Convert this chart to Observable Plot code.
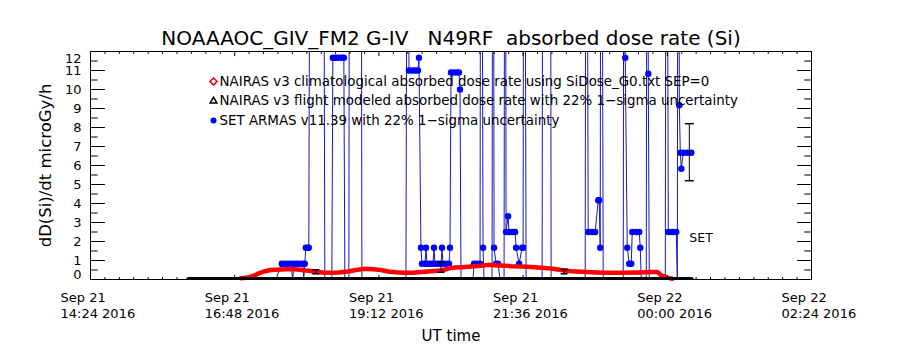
<!DOCTYPE html>
<html><head><meta charset="utf-8">
<script src="https://cdn.jsdelivr.net/npm/d3@7"></script>
<script src="https://cdn.jsdelivr.net/npm/@observablehq/plot@0.6"></script>
<style>body{margin:0;background:#fff} svg{display:block}</style>
</head><body><div id="chart"></div>
<script>
// ---- text ----
const titleText = "NOAAAOC_GIV_FM2 G-IV\u00a0\u00a0\u00a0N49RF\u00a0\u00a0absorbed dose rate (Si)";
const yLabelText = "dD(Si)/dt microGy/h";
const xLabelText = "UT time";
const legendLabels = [
  "NAIRAS v3 climatological absorbed dose rate using SiDose_G0.txt SEP=0",
  "NAIRAS v3 flight modeled absorbed dose rate with 22% 1\u2212sigma uncertainty",
  "SET ARMAS v11.39 with 22% 1\u2212sigma uncertainty"
];
const setLabel = "SET";

// ---- axes ----
const xTickClock = ["14:24", "16:48", "19:12", "21:36", "00:00", "02:24"];
const xTickDay = ["Sep 21", "Sep 21", "Sep 21", "Sep 21", "Sep 22", "Sep 22"];
const xTickYear = ["14:24 2016", "16:48 2016", "19:12 2016", "21:36 2016", "00:00 2016", "02:24 2016"];
const yTickValues = [0, 1, 2, 3, 4, 5, 6, 7, 8, 9, 10, 11, 12];

// ---- SET ARMAS (blue) ----
const setTimes = ["16:02","17:29","17:35","17:38","17:41","17:44","17:46","17:47","17:50","17:53","17:56","17:57","17:58","17:59","18:01","18:02","18:04","18:16","18:18","18:25","18:26","18:29","18:32","18:35","18:37","18:38","18:42","18:43","18:54","18:55","19:39","19:41","19:42","19:45","19:48","19:51","19:52","19:54","19:55","19:58","19:59","20:00","20:03","20:06","20:07","20:08","20:11","20:14","20:15","20:16","20:19","20:22","20:23","20:24","20:27","20:30","20:32","20:33","20:34","20:46","20:47","20:50","20:53","20:54","20:56","20:57","21:05","21:06","21:07","21:09","21:11","21:13","21:17","21:18","21:19","21:21","21:22","21:25","21:28","21:29","21:32","21:35","21:36","21:37","21:39","21:55","21:56","22:03","22:04","22:38","22:39","22:41","22:45","22:48","22:51","22:52","22:53","22:54","22:56","23:16","23:17","23:18","23:20","23:22","23:24","23:25","23:29","23:32","23:33","23:34","23:39","23:40","23:41","23:42","23:58","23:59","00:01","00:05","00:09","00:10","00:11","00:12","00:13","00:14","00:16","00:20","00:24"];
const setValues = [0,0,0.83,0.83,0.83,0.83,0,0.83,0.83,0.83,0.83,0,0.83,1.67,1.67,1.67,40,40,0,0,11.67,11.67,11.67,11.67,11.67,0,0,40,40,0,0,40,11.0,11.0,11.0,11.0,11.67,1.67,0.83,0.83,1.67,0.83,0.83,0.83,1.67,0.83,0.83,0.83,1.67,0.83,0.83,0.83,1.67,10.9,10.9,10.9,10.9,10.0,0,0,0.83,0.83,0.83,40,1.67,0,0,40,1.67,0.83,0.83,0,0,40,2.5,3.33,2.5,2.5,2.5,1.67,0.83,1.67,1.67,40,0,0,40,40,0,0,40,2.5,2.5,2.5,4.17,4.17,1.67,40,0,0,40,11.67,1.67,0.83,0.83,2.5,2.5,2.5,1.67,0,0,40,10.83,0,0,40,2.5,2.5,2.5,0,40,9.17,6.67,5.83,6.67,6.67,6.67];
const setErrTime = ["00:22"];
const setErrLow = [5.2];
const setErrHigh = [8.2];
const setLabelTime = ["00:22"];
const setLabelValue = [2.2];

// ---- NAIRAS climatological (red) ----
const clmTimes = ["16:54","17:01","17:07","17:12","17:17","17:24","17:34","17:44","17:51","17:59","18:07","18:16","18:24","18:32","18:41","18:49","18:57","19:06","19:14","19:21","19:29","19:37","19:46","19:54","20:04","20:14","20:24","20:34","20:44","20:54","21:01","21:11","21:19","21:24","21:34","21:44","21:54","22:04","22:14","22:24","22:34","22:44","22:57","23:14","23:31","23:44","23:50","23:54","00:00","00:05"];
const clmValues = [0.07,0.1,0.2,0.32,0.42,0.5,0.53,0.55,0.53,0.47,0.42,0.37,0.35,0.37,0.42,0.5,0.56,0.54,0.5,0.42,0.38,0.35,0.36,0.4,0.43,0.47,0.62,0.65,0.68,0.72,0.77,0.74,0.72,0.7,0.68,0.66,0.62,0.58,0.5,0.44,0.41,0.38,0.35,0.35,0.37,0.4,0.4,0.22,0.1,0.04];

// ---- NAIRAS flight modeled (black) ----
const fltTimes = ["16:02","18:00","20:00","22:00","00:24"];
const fltValues = [0, 0, 0, 0, 0];
const fltErrTimes = ["18:09", "20:14", "22:17"];
const fltErrLow = [0.3, 0.38, 0.3];
const fltErrHigh = [0.51, 0.91, 0.53];

// ---- helpers ----
const toDate = hm => {
  const [h, m] = hm.split(":").map(Number);
  return new Date(Date.UTC(2016, 8, h >= 14 ? 21 : 22, h, m));
};
const W = 900, H = 350, ML = 90, MR = 89, MT = 51, MB = 71;
const FW = W - ML - MR, FH = H - MT - MB;
const xStart = toDate("14:24"), xEnd = toDate("02:24");
const Y0 = 0, Y1 = 12;
const msPerPx = (+xEnd - +xStart) / FW;
const unitPerPx = (Y1 - Y0) / FH;
const addPx = (d, px) => new Date(+d + px * msPerPx);

const setData = setTimes.map((t, i) => ({t: toDate(t), v: setValues[i]}));
const clmData = clmTimes.map((t, i) => ({t: toDate(t), v: clmValues[i]}));
const fltData = fltTimes.map((t, i) => ({t: toDate(t), v: fltValues[i]}));
const fltErr = fltErrTimes.map((t, i) => ({t: toDate(t), lo: fltErrLow[i], hi: fltErrHigh[i]}));
const setErr = setErrTime.map((t, i) => ({t: toDate(t), lo: setErrLow[i], hi: setErrHigh[i]}));
const xLabels = xTickClock.map((c, i) => ({t: i === 5 ? xEnd : toDate(c), day: xTickDay[i], yr: xTickYear[i]}));
// tick positions: every 14.4 min, every 10th one is major
const xTickPos = d3.range(0, 51).map(k => ({t: new Date(+xStart + k * 14.4 * 60000), major: k % 10 === 0}));
const yTickPos = d3.range(0, 25).map(k => ({v: k / 2, major: k % 2 === 0}));

const capSymbol = {draw(ctx, size) { const w = Math.sqrt(size / Math.PI); ctx.moveTo(-w, 0); ctx.lineTo(w, 0); }};

const blueLine = "#1a1ab8", blueDot = "#0000ff";
const font = "DejaVu Sans";
const yMajLen = 14.4, yMinLen = 7.2, xMajLen = 4.6, xMinLen = 2.4;

const chart = Plot.plot({
  width: W, height: H,
  marginLeft: ML, marginRight: MR, marginTop: MT, marginBottom: MB,
  style: {fontFamily: font, background: "white", color: "black"},
  x: {type: "utc", domain: [xStart, xEnd], axis: null},
  y: {domain: [Y0, Y1], axis: null},
  marks: [
    // SET ARMAS
    Plot.line(setData, {x: "t", y: "v", stroke: blueLine, strokeWidth: 1, clip: true}),
    Plot.dot(setData.filter(d => d.v > 0 && d.v <= 12), {x: "t", y: "v", r: 3.2, fill: blueDot, stroke: "none"}),
    // NAIRAS climatological
    Plot.line(clmData, {x: "t", y: "v", stroke: "#ff0000", strokeWidth: 4.5}),
    // NAIRAS flight modeled
    Plot.line(fltData, {x: "t", y: "v", stroke: "black", strokeWidth: 5, clip: true}),
    Plot.ruleX(fltErr, {x: "t", y1: "lo", y2: "hi", stroke: "black"}),
    Plot.dot(fltErr, {x: "t", y: "lo", symbol: capSymbol, r: 3.5, stroke: "black", fill: "none"}),
    Plot.dot(fltErr, {x: "t", y: "hi", symbol: capSymbol, r: 3.5, stroke: "black", fill: "none"}),
    // SET error bar + label
    Plot.ruleX(setErr, {x: "t", y1: "lo", y2: "hi", stroke: "black"}),
    Plot.dot(setErr, {x: "t", y: "lo", symbol: capSymbol, r: 4.5, stroke: "black", fill: "none"}),
    Plot.dot(setErr, {x: "t", y: "hi", symbol: capSymbol, r: 4.5, stroke: "black", fill: "none"}),
    Plot.text([setLabel], {x: () => toDate(setLabelTime[0]), y: () => setLabelValue[0], text: d => d, textAnchor: "start", lineAnchor: "middle", fontSize: 12.5, fill: "black"}),
    // frame & ticks
    Plot.frame({stroke: "black", strokeWidth: 1}),
    Plot.link(yTickPos, {x1: () => xStart, x2: d => addPx(xStart, d.major ? yMajLen : yMinLen), y1: "v", y2: "v", stroke: "black"}),
    Plot.link(yTickPos, {x1: d => addPx(xEnd, d.major ? -yMajLen : -yMinLen), x2: () => xEnd, y1: "v", y2: "v", stroke: "black"}),
    Plot.link(xTickPos, {x1: "t", x2: "t", y1: () => Y0, y2: d => Y0 + (d.major ? xMajLen : xMinLen) * unitPerPx, stroke: "black"}),
    Plot.link(xTickPos, {x1: "t", x2: "t", y1: d => Y1 - (d.major ? xMajLen : xMinLen) * unitPerPx, y2: () => Y1, stroke: "black"}),
    // y tick labels
    Plot.text(yTickValues.filter(v => v > 0 && v < 12), {y: d => d, text: d => String(d), frameAnchor: "left", textAnchor: "end", lineAnchor: "middle", dx: -9, fontSize: 13, fill: "black"}),
    Plot.text([0], {y: d => d, text: d => String(d), frameAnchor: "left", textAnchor: "end", lineAnchor: "middle", dx: -9, dy: -5, fontSize: 13, fill: "black"}),
    Plot.text([12], {y: d => d, text: d => String(d), frameAnchor: "left", textAnchor: "end", lineAnchor: "middle", dx: -9, dy: 7, fontSize: 13, fill: "black"}),
    // x tick labels
    Plot.text(xLabels, {x: "t", text: "day", frameAnchor: "bottom", textAnchor: "start", lineAnchor: "middle", dx: -30, dy: 18, fontSize: 13, fill: "black"}),
    Plot.text(xLabels, {x: "t", text: "yr", frameAnchor: "bottom", textAnchor: "start", lineAnchor: "middle", dx: -30, dy: 34, fontSize: 13, fill: "black"}),
    // axis titles and title
    Plot.text([xLabelText], {frameAnchor: "bottom", textAnchor: "middle", lineAnchor: "middle", dy: 57, fontSize: 15, fill: "black"}),
    Plot.text([yLabelText], {frameAnchor: "left", textAnchor: "middle", lineAnchor: "middle", dx: -45, rotate: -90, fontSize: 16.5, fill: "black"}),
    Plot.text([titleText], {frameAnchor: "top", textAnchor: "middle", lineAnchor: "middle", dy: -13, fontSize: 20, fill: "black"}),
    // legend
    Plot.dot([0], {frameAnchor: "top-left", dx: 123, dy: 30, symbol: "diamond2", r: 3.2, stroke: "#e00000", strokeWidth: 1.5, fill: "white"}),
    Plot.dot([0], {frameAnchor: "top-left", dx: 123, dy: 49.5, symbol: "triangle2", r: 3.2, stroke: "black", strokeWidth: 1.5, fill: "white"}),
    Plot.dot([0], {frameAnchor: "top-left", dx: 123, dy: 69, r: 3, fill: blueDot, stroke: "none"}),
    Plot.text([legendLabels[0]], {frameAnchor: "top-left", dx: 129, dy: 30, textAnchor: "start", lineAnchor: "middle", fontSize: 13.4, fill: "black"}),
    Plot.text([legendLabels[1]], {frameAnchor: "top-left", dx: 129, dy: 49.5, textAnchor: "start", lineAnchor: "middle", fontSize: 13.4, fill: "black"}),
    Plot.text([legendLabels[2]], {frameAnchor: "top-left", dx: 129, dy: 69, textAnchor: "start", lineAnchor: "middle", fontSize: 13.4, fill: "black"})
  ]
});
document.getElementById("chart").appendChild(chart);
</script>
</body></html>
